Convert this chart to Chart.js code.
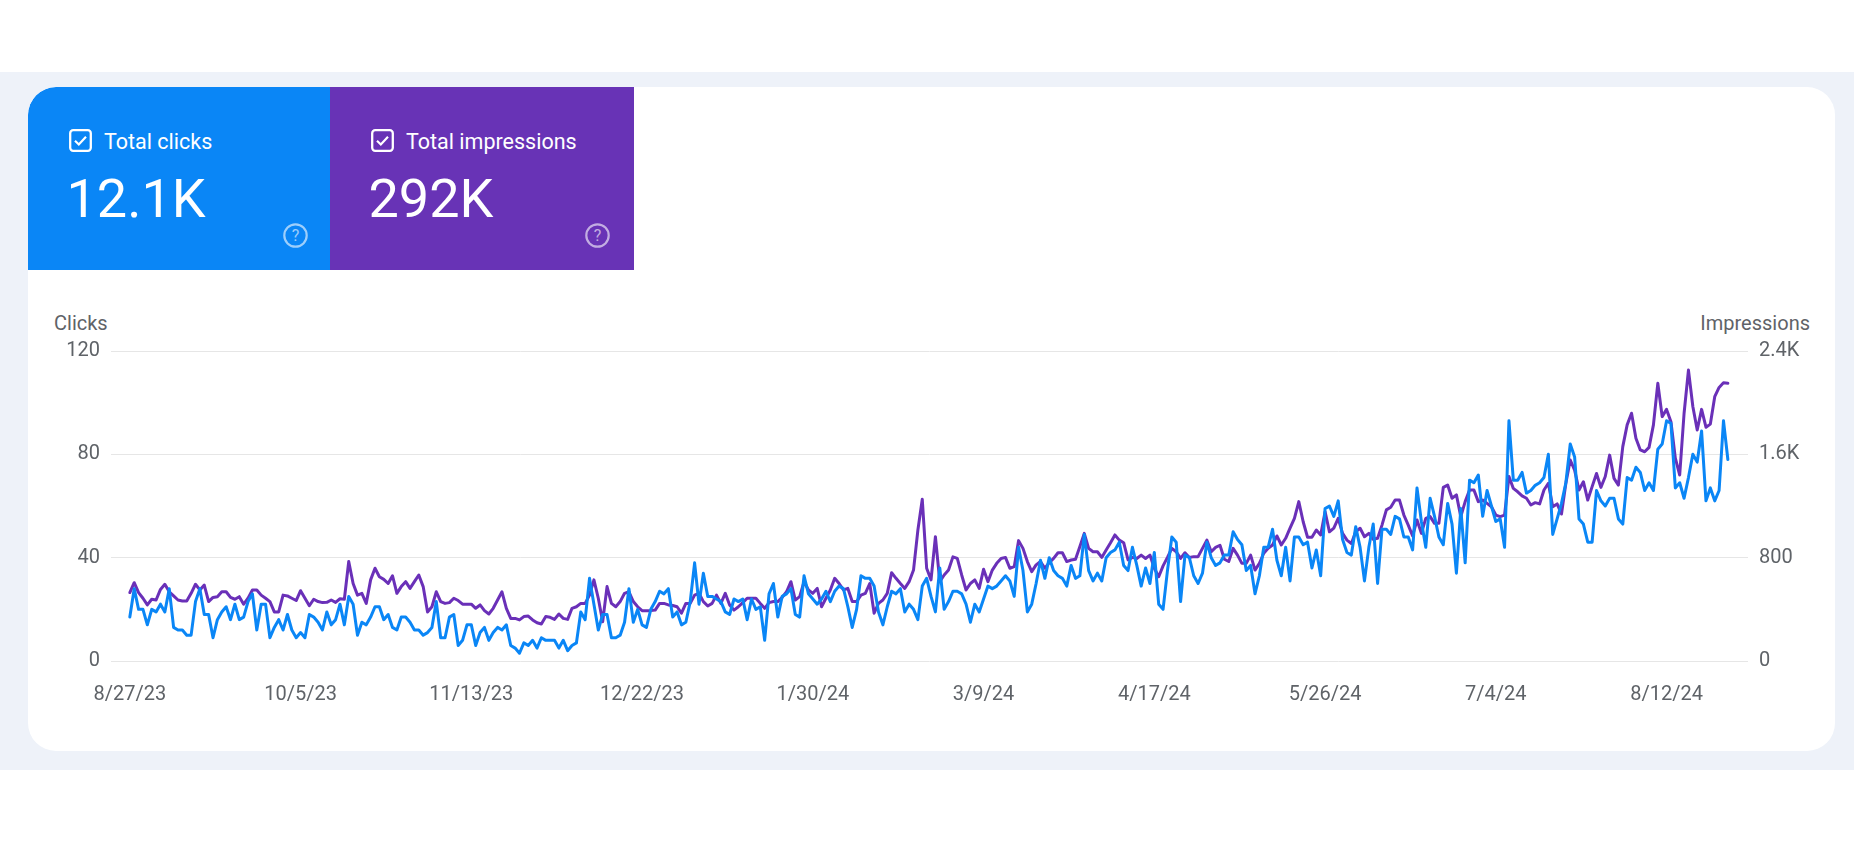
<!DOCTYPE html>
<html>
<head>
<meta charset="utf-8">
<script src="https://cdn.jsdelivr.net/npm/chart.js@4.4.1/dist/chart.umd.min.js"></script>
<style>
html,body{margin:0;padding:0;background:#ffffff;width:1854px;height:842px;overflow:hidden;font-family:Roboto,"Noto Sans",sans-serif;}
#band{position:absolute;left:0;top:72px;width:1854px;height:698px;background:#eef2f9;}
#card{position:absolute;left:28px;top:87px;width:1807px;height:664px;background:#ffffff;border-radius:28px;overflow:hidden;}
.tile{position:absolute;top:0;height:183px;color:#ffffff;}
#t1{left:0;width:302px;background:#0a86f6;border-top-left-radius:28px;}
#t2{left:302px;width:304px;background:#6833b6;}
.chk{position:absolute;left:41px;top:42px;width:23px;height:23px;}
.lbl{position:absolute;left:76px;top:43.5px;font-size:21.5px;line-height:1;white-space:nowrap;font-weight:400;}
.num{position:absolute;left:38.5px;top:85px;font-size:54px;line-height:1;white-space:nowrap;font-weight:400;}
.help{position:absolute;left:255px;top:136px;width:25px;height:25px;}
.axt{position:absolute;top:313px;font-size:20px;line-height:1;color:#5f6368;white-space:nowrap;}
#c{position:absolute;left:28px;top:300px;}
</style>
</head>
<body>
<div id="band"></div>
<div id="card">
  <div class="tile" id="t1">
    <svg class="chk" viewBox="0 0 23 23"><rect x="1.2" y="1.2" width="20.6" height="20.6" rx="3" fill="none" stroke="#fff" stroke-width="2.3"/><polyline points="6,11.8 9.8,15.5 17,7.8" fill="none" stroke="#fff" stroke-width="2.2"/></svg>
    <div class="lbl">Total clicks</div>
    <div class="num" id="n1">12.1K</div>
    <svg class="help" viewBox="0 0 25 25"><circle cx="12.5" cy="12.5" r="11.2" fill="none" stroke="rgba(255,255,255,0.6)" stroke-width="2.2"/><text x="12.5" y="18" text-anchor="middle" font-family="Roboto" font-size="16" fill="rgba(255,255,255,0.6)">?</text></svg>
  </div>
  <div class="tile" id="t2">
    <svg class="chk" viewBox="0 0 23 23"><rect x="1.2" y="1.2" width="20.6" height="20.6" rx="3" fill="none" stroke="#fff" stroke-width="2.3"/><polyline points="6,11.8 9.8,15.5 17,7.8" fill="none" stroke="#fff" stroke-width="2.2"/></svg>
    <div class="lbl">Total impressions</div>
    <div class="num" id="n2">292K</div>
    <svg class="help" viewBox="0 0 25 25"><circle cx="12.5" cy="12.5" r="11.2" fill="none" stroke="rgba(255,255,255,0.6)" stroke-width="2.2"/><text x="12.5" y="18" text-anchor="middle" font-family="Roboto" font-size="16" fill="rgba(255,255,255,0.6)">?</text></svg>
  </div>
</div>
<div class="axt" style="left:54px;">Clicks</div>
<div class="axt" style="right:44px;">Impressions</div>
<canvas id="c" width="1807" height="420"></canvas>
<script>
// Daily values, 8/27/23 .. 8/26/24 (366 days)
const clicks = [
17,28,20,20,14,20,19,22,19,28,
13,12,12,10,10,23,28,18,18,9,
16,19,21,16,22,16,17,23,26,12,
22,22,9,13,16,12,18,12,9,11,
9,18,17,15,12,19,14,16,22,14,
25,22,10,15,14,17,21,21,16,18,
13,12,17,17,15,12,12,10,11,13,
23,9,9,17,18,6,8,14,14,6,
11,13,8,11,13,12,14,6,5,3,
7,6,8,5,9,8,8,8,5,8,
4,6,7,19,16,32,22,12,18,18,
9,9,10,15,28,15,20,14,13,20,
23,27,26,28,17,19,14,15,23,38,
22,34,25,25,24,23,19,18,24,23,
24,16,24,20,21,8,26,30,17,25,
26,28,18,17,33,26,24,22,24,27,
23,27,29,28,21,13,20,33,32,32,
29,19,14,21,27,26,28,19,22,20,
16,29,32,25,19,36,20,23,27,27,
26,22,15,22,19,24,29,28,29,31,
33,31,25,44,35,19,22,30,39,32,
40,35,33,32,29,37,32,33,49,35,
31,34,31,40,42,43,46,37,35,44,
37,29,36,30,42,22,20,35,48,46,
23,41,40,33,30,34,46,40,37,38,
41,41,50,47,45,35,37,26,33,44,
44,51,39,33,44,31,48,48,45,46,
36,43,33,59,60,56,62,47,42,41,
52,44,31,44,53,30,51,51,49,56,
55,48,48,43,67,54,44,63,56,48,
45,61,53,34,59,38,70,69,72,56,
66,60,54,55,44,93,70,70,73,65,
66,68,69,71,80,49,55,61,69,84,
79,55,53,46,46,66,62,60,63,63,
55,53,71,70,75,73,66,69,66,82,
84,93,92,67,69,63,71,80,77,89,
62,67,62,66,93,78
];
const impressions = [
530,606,530,486,434,478,472,554,594,536,
504,472,464,464,524,594,550,588,460,492,
498,536,536,492,478,498,440,486,550,550,
510,486,460,380,380,510,504,486,468,544,
486,428,478,460,452,454,472,454,482,478,
770,600,510,524,446,628,718,652,632,600,
660,524,576,614,562,614,666,576,380,420,
536,460,446,452,486,468,440,440,440,408,
434,390,364,408,472,536,408,330,330,318,
344,348,318,296,286,344,338,322,364,330,
322,408,420,446,446,510,628,486,304,576,
446,420,460,524,536,460,420,390,390,390,
394,446,446,434,430,420,370,446,446,510,
524,460,426,446,510,446,524,434,394,420,
452,486,486,486,446,408,452,460,460,492,
536,614,472,498,614,550,524,562,420,486,
550,640,600,550,562,460,460,510,524,600,
370,446,472,524,684,640,600,562,614,704,
1014,1252,718,628,962,614,666,704,806,794,
666,550,600,628,562,710,614,704,756,794,
802,718,730,932,872,770,692,744,770,718,
762,794,838,838,770,782,788,886,988,872,
846,846,802,860,916,976,936,916,782,802,
794,820,794,820,718,652,736,802,872,846,
794,838,802,808,808,872,936,846,880,896,
788,770,872,820,756,756,820,704,756,834,
872,898,968,898,950,1028,1104,1234,1078,958,
958,1014,976,1156,1000,1028,1104,988,936,910,
1000,1028,962,988,942,950,1052,1170,1190,1246,
1246,1130,1052,968,1092,988,1104,1118,1066,1066,
1344,1362,1260,1286,1118,1234,1324,1324,1234,1246,
1220,1194,1130,1118,1130,1428,1336,1310,1278,1260,
1208,1226,1216,1324,1376,1194,1216,1138,1376,1556,
1478,1324,1388,1246,1350,1452,1344,1428,1594,1414,
1362,1660,1828,1918,1724,1634,1620,1654,1828,2150,
1892,1948,1852,1570,1440,1918,2252,1970,1788,1948,
1810,1834,2046,2118,2154,2150
];
// x ticks: day index from 8/27/23 and their labels
const xTickDays = [0,39,78,117,156,195,234,273,312,351];
const xTickLabels = ['8/27/23','10/5/23','11/13/23','12/22/23','1/30/24','3/9/24','4/17/24','5/26/24','7/4/24','8/12/24'];
const clickTicks = [0,40,80,120];
const clickTickLabels = ['0','40','80','120'];
const imprTicks = [0,800,1600,2400];
const imprTickLabels = ['0','800','1.6K','2.4K'];

const BLUE = '#0a86f6';
const PURPLE = '#6a30b8';
const TXT = '#5f6368';
const FONT = {family:'Roboto', size:20};

new Chart(document.getElementById('c'), {
  type: 'line',
  data: {
    datasets: [
      {label:'Clicks', data: clicks.map((v,i)=>({x:i,y:v})), yAxisID:'y', borderColor:BLUE, borderWidth:3, pointRadius:0, tension:0, borderJoinStyle:'round', borderCapStyle:'round', fill:false},
      {label:'Impressions', data: impressions.map((v,i)=>({x:i,y:v})), yAxisID:'y1', borderColor:PURPLE, borderWidth:3, pointRadius:0, tension:0, borderJoinStyle:'round', borderCapStyle:'round', fill:false}
    ]
  },
  options: {
    responsive:false, animation:false, events:[],
    layout:{padding:{top:51,left:0,right:0,bottom:0}},
    plugins:{legend:{display:false}, tooltip:{enabled:false}},
    scales:{
      x:{
        type:'linear', min:-4.3, max:369.6,
        grid:{display:false, drawTicks:false}, border:{display:false},
        afterBuildTicks: s => { s.ticks = xTickDays.map(v=>({value:v})); },
        afterFit: s => { s.height = 59; },
        ticks:{autoSkip:false, maxRotation:0, padding:22, color:TXT, font:FONT,
          callback:(v,i)=>xTickLabels[i]}
      },
      y:{
        position:'left', min:0, max:120,
        afterBuildTicks: s => { s.ticks = clickTicks.map(v=>({value:v})); },
        afterFit: s => { s.width = 83; },
        grid:{color:'#e6e6e6', lineWidth:1, drawTicks:false}, border:{display:false},
        ticks:{padding:11, color:TXT, font:FONT, callback:(v,i)=>clickTickLabels[i]}
      },
      y1:{
        position:'right', min:0, max:2400,
        afterBuildTicks: s => { s.ticks = imprTicks.map(v=>({value:v})); },
        afterFit: s => { s.width = 87; },
        grid:{display:false, drawTicks:false}, border:{display:false},
        ticks:{padding:11, color:TXT, font:FONT, callback:(v,i)=>imprTickLabels[i]}
      }
    }
  }
});
</script>
</body>
</html>
